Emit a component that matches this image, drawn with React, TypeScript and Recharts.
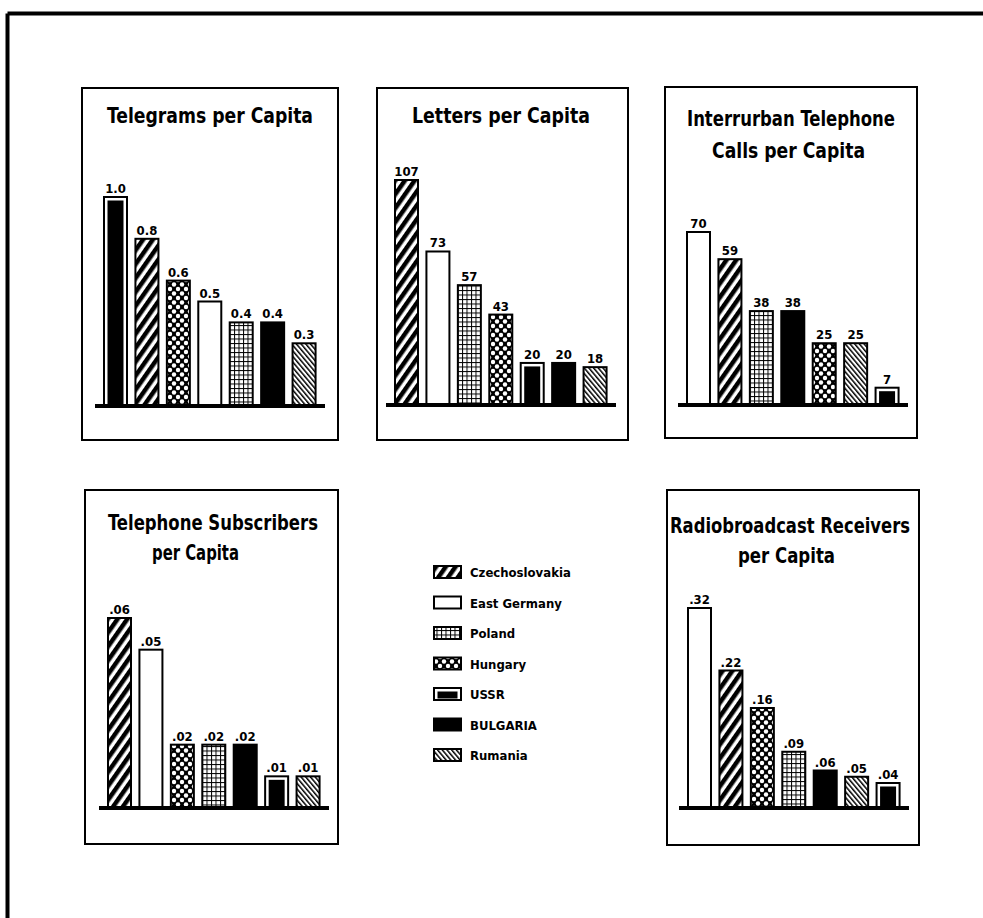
import React from 'react';
import { BarChart, Bar, XAxis, YAxis, LabelList, ReferenceLine } from 'recharts';

// legend order
const LEGEND_COUNTRIES = ['Czechoslovakia', 'East Germany', 'Poland', 'Hungary', 'USSR', 'BULGARIA', 'Rumania'];

// each panel keeps its own bar order
const telegramCountries = ['USSR', 'Czechoslovakia', 'Hungary', 'East Germany', 'Poland', 'BULGARIA', 'Rumania'];
const telegramValues = [1.0, 0.8, 0.6, 0.5, 0.4, 0.4, 0.3];

const letterCountries = ['Czechoslovakia', 'East Germany', 'Poland', 'Hungary', 'USSR', 'BULGARIA', 'Rumania'];
const letterValues = [107, 73, 57, 43, 20, 20, 18];

const callCountries = ['East Germany', 'Czechoslovakia', 'Poland', 'BULGARIA', 'Hungary', 'Rumania', 'USSR'];
const callValues = [70, 59, 38, 38, 25, 25, 7];

const subscriberCountries = ['Czechoslovakia', 'East Germany', 'Hungary', 'Poland', 'BULGARIA', 'USSR', 'Rumania'];
const subscriberValues = [0.06, 0.05, 0.02, 0.02, 0.02, 0.01, 0.01];

const radioCountries = ['East Germany', 'Czechoslovakia', 'Hungary', 'Poland', 'BULGARIA', 'Rumania', 'USSR'];
const radioValues = [0.32, 0.22, 0.16, 0.09, 0.06, 0.05, 0.04];

const FONT = "'DejaVu Sans Condensed', 'DejaVu Sans', sans-serif";
const PLOT_W = 220;
const TOP_M = 25;

const oneDecimal = (v: any) => Number(v).toFixed(1);
const whole = (v: any) => String(v);
const noLeadingZero = (v: any) => Number(v).toFixed(2).slice(1);

const Patterns = ({ pid }: { pid: string }) => (
  <defs>
    <pattern id={`${pid}-cz`} width={8} height={8} patternUnits="userSpaceOnUse" patternTransform="rotate(35)">
      <rect width={8} height={8} fill="#fff" />
      <rect width={4.5} height={8} fill="#000" />
    </pattern>
    <pattern id={`${pid}-ru`} width={3.6} height={3.6} patternUnits="userSpaceOnUse" patternTransform="rotate(-40)">
      <rect width={3.6} height={3.6} fill="#fff" />
      <rect width={1.5} height={3.6} fill="#000" />
    </pattern>
    <pattern id={`${pid}-pl`} width={4.5} height={4.5} patternUnits="userSpaceOnUse">
      <rect width={4.5} height={4.5} fill="#fff" />
      <rect width={1} height={4.5} fill="#000" />
      <rect width={4.5} height={1} fill="#000" />
    </pattern>
    <pattern id={`${pid}-hu`} width={8} height={9} patternUnits="userSpaceOnUse">
      <rect width={8} height={9} fill="#000" />
      <circle cx={0} cy={0} r={2.2} fill="#fff" />
      <circle cx={8} cy={0} r={2.2} fill="#fff" />
      <circle cx={0} cy={9} r={2.2} fill="#fff" />
      <circle cx={8} cy={9} r={2.2} fill="#fff" />
      <circle cx={4} cy={4.5} r={2.2} fill="#fff" />
    </pattern>
  </defs>
);

const fillFor = (c: string, pid: string) => {
  switch (c) {
    case 'Czechoslovakia': return `url(#${pid}-cz)`;
    case 'Poland': return `url(#${pid}-pl)`;
    case 'Hungary': return `url(#${pid}-hu)`;
    case 'Rumania': return `url(#${pid}-ru)`;
    case 'BULGARIA': return '#000';
    default: return '#fff';
  }
};

// bar with pattern fill; USSR gets the framed black block
const Swatch = ({ x, y, width, height, country, pid }: any) => {
  if (country === 'USSR') {
    return (
      <g>
        <rect x={x} y={y} width={width} height={height} fill="#fff" stroke="#000" strokeWidth={2} />
        <rect x={x + 3.5} y={y + 3.5} width={Math.max(width - 7, 0)} height={Math.max(height - 5, 0)} fill="#000" />
      </g>
    );
  }
  return <rect x={x} y={y} width={width} height={height} fill={fillFor(country, pid)} stroke="#000" strokeWidth={2} />;
};

interface PanelProps {
  pid: string;
  countries: string[];
  values: number[];
  plotLeft: number;
  plotTop: number;
  baseline: number;
  fmt: (v: any) => string;
}

const Panel = ({ pid, countries, values, plotLeft, plotTop, baseline, fmt }: PanelProps) => {
  const data = countries.map((country, i) => ({ country, value: values[i] }));
  const plotH = baseline - plotTop;
  return (
    <div style={{ position: 'absolute', left: plotLeft - 10, top: plotTop - TOP_M }}>
      <BarChart
        width={PLOT_W + 20}
        height={plotH + TOP_M + 8}
        data={data}
        margin={{ top: TOP_M, right: 10, left: 10, bottom: 8 }}
      >
        <Patterns pid={pid} />
        <XAxis dataKey="country" hide />
        <YAxis hide domain={[0, Math.max(...values)]} />
        <Bar
          dataKey="value"
          barSize={23}
          isAnimationActive={false}
          shape={(p: any) => <Swatch {...p} country={p.payload.country} pid={pid} />}
        >
          <LabelList
            dataKey="value"
            position="top"
            offset={4}
            formatter={fmt}
            fill="#000"
            fontSize={13}
            fontWeight="bold"
            fontFamily={FONT}
          />
        </Bar>
        <ReferenceLine
          y={0}
          stroke="#000"
          strokeWidth={4}
          shape={(p: any) => (
            <line x1={p.x1 - 5} y1={p.y1} x2={p.x2 + 5} y2={p.y2} stroke="#000" strokeWidth={4} />
          )}
        />
      </BarChart>
    </div>
  );
};

const Title = ({ x, y, text, w }: { x: number; y: number; text: string; w: number }) => (
  <text
    x={x}
    y={y}
    textLength={w}
    lengthAdjust="spacingAndGlyphs"
    fontSize={21}
    fontWeight="bold"
    fontFamily={FONT}
    fill="#000"
  >
    {text}
  </text>
);

const Box = ({ l, t, r, b }: { l: number; t: number; r: number; b: number }) => (
  <rect x={l} y={t} width={r - l} height={b - t} fill="none" stroke="#000" strokeWidth={2} />
);

export default function App() {
  return (
    <div style={{ position: 'absolute', left: 0, top: 0, width: 983, height: 918, overflow: 'hidden', background: '#fff', fontFamily: FONT }}>
      <svg width={983} height={918} style={{ position: 'absolute', left: 0, top: 0 }}>
        <Patterns pid="lg" />
        {/* outer frame, only top and left visible */}
        <line x1={7.5} y1={13.5} x2={990} y2={13.5} stroke="#000" strokeWidth={4} />
        <line x1={7.5} y1={13.5} x2={7.5} y2={930} stroke="#000" strokeWidth={4} />

        <Box l={82} t={88} r={338} b={440} />
        <Box l={377} t={88} r={628} b={440} />
        <Box l={665} t={87} r={917} b={438} />
        <Box l={85} t={490} r={338} b={844} />
        <Box l={667} t={490} r={919} b={845} />

        <Title x={107} y={123} text="Telegrams per Capita" w={206} />
        <Title x={412} y={123} text="Letters per Capita" w={178} />
        <Title x={687} y={126} text="Interrurban Telephone" w={208} />
        <Title x={712} y={158} text="Calls per Capita" w={153} />
        <Title x={108} y={530} text="Telephone Subscribers" w={210} />
        <Title x={152} y={560} text="per Capita" w={87} />
        <Title x={670} y={533} text="Radiobroadcast Receivers" w={240} />
        <Title x={738} y={563} text="per Capita" w={97} />

        {LEGEND_COUNTRIES.map((c, i) => {
          const cy = 572 + i * 30.5;
          return (
            <g key={c}>
              <Swatch x={434} y={cy - 6} width={27} height={12} country={c} pid="lg" />
              <text x={470} y={cy + 5} fontSize={13} fontWeight="bold" fontFamily={FONT} fill="#000">
                {c}
              </text>
            </g>
          );
        })}
      </svg>

      <Panel pid="p1" countries={telegramCountries} values={telegramValues} plotLeft={100} plotTop={197} baseline={406} fmt={oneDecimal} />
      <Panel pid="p2" countries={letterCountries} values={letterValues} plotLeft={391} plotTop={180} baseline={405} fmt={whole} />
      <Panel pid="p3" countries={callCountries} values={callValues} plotLeft={683} plotTop={232} baseline={405} fmt={whole} />
      <Panel pid="p4" countries={subscriberCountries} values={subscriberValues} plotLeft={104} plotTop={618} baseline={808} fmt={noLeadingZero} />
      <Panel pid="p6" countries={radioCountries} values={radioValues} plotLeft={684} plotTop={608} baseline={808} fmt={noLeadingZero} />
    </div>
  );
}
